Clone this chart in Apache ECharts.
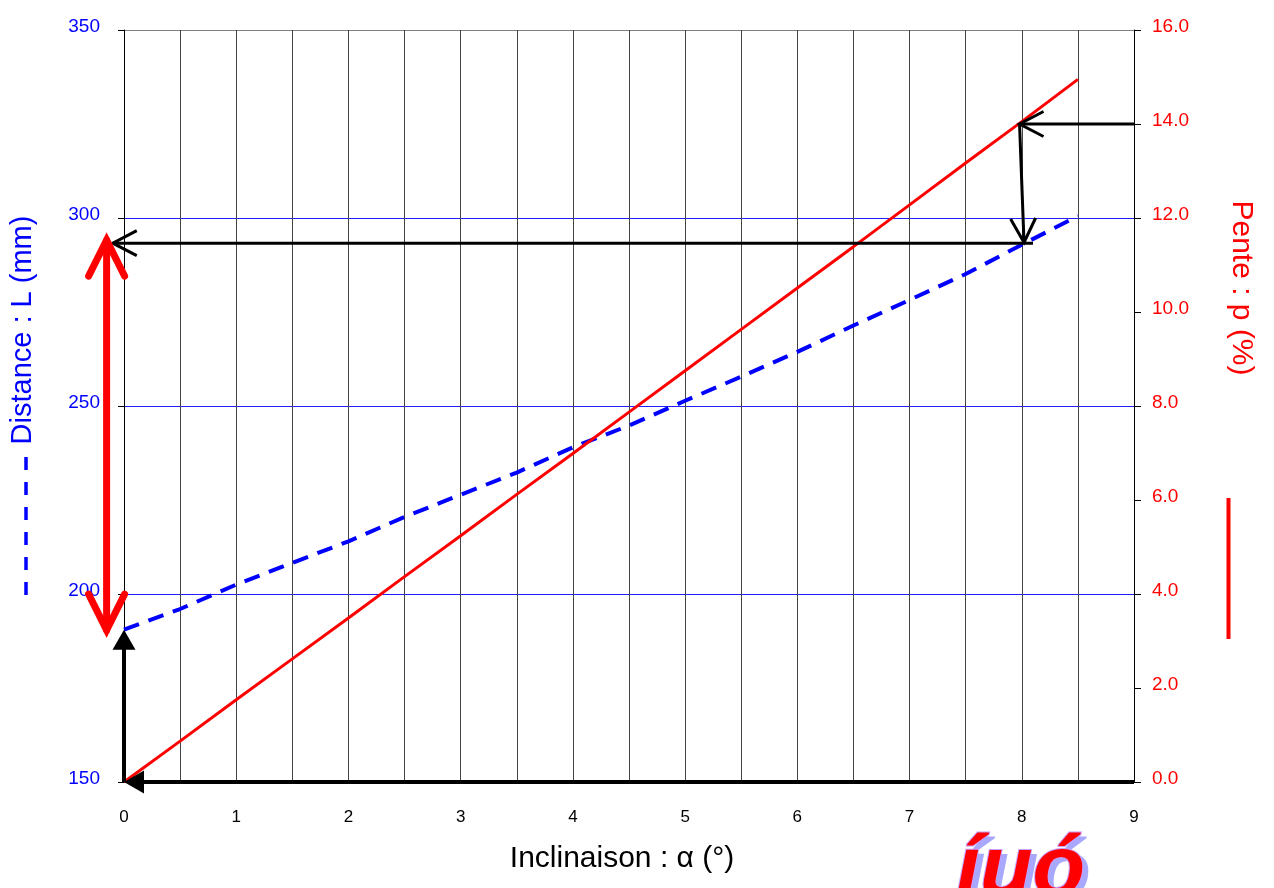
<!DOCTYPE html>
<html>
<head>
<meta charset="utf-8">
<title>Distance et pente</title>
<script src="https://cdn.jsdelivr.net/npm/echarts@6/dist/echarts.min.js"></script>
<style>
  html, body { margin: 0; padding: 0; background: #fff; }
  #chart { width: 1274px; height: 888px; }
</style>
</head>
<body>
<div id="chart"></div>
<script>
// inclinaison (deg), every 0.5
var angles = [0, 0.5, 1, 1.5, 2, 2.5, 3, 3.5, 4, 4.5, 5, 5.5, 6, 6.5, 7, 7.5, 8, 8.5];
// distance L (mm)
var distance = [190.5, 196, 202.5, 208.3, 214, 220.5, 226.4, 232.3, 239, 244.8, 251.4, 257.8, 264.4, 271.4, 278.2, 285.1, 292.9, 300.5];
// pente p (%)
var pente = [0, 0.87, 1.75, 2.62, 3.49, 4.37, 5.24, 6.12, 6.99, 7.87, 8.75, 9.63, 10.51, 11.39, 12.28, 13.17, 14.05, 14.95];

var leftTicks = [150, 350, 50];
var rightTicks = [0, 16, 2];

// reading arrows, in (angle, L) units; p values go through pToL
// [fromX, fromL, toX, toL, kind]  kind 0 = filled head, 1 = open head, 2 = red double
function pToL(p) {
  return leftTicks[0] + p * (leftTicks[1] - leftTicks[0]) / (rightTicks[1] - rightTicks[0]);
}
var arrows = [
  [0, 150, 0, 190.5, 0],
  [9, 150, 0, 150, 0],
  [9, pToL(14), 7.98, pToL(14), 1],
  [7.98, pToL(14), 8.02, 293.5, 1],
  [8.1, 293.3, -0.1, 293.3, 1],
  [-0.155, 190.4, -0.155, 294.1, 2]
];

var headStyle = {
  0: { len: 20, half: 11.5, width: 4, color: '#000' },
  1: { len: 24, half: 12.5, width: 3, color: '#000' },
  2: { len: 36, half: 18, width: 7, color: '#ff0000' }
};

function head(tip, d, h, filled) {
  var n = [-d[1], d[0]];
  var a = [tip[0] - d[0] * h.len + n[0] * h.half, tip[1] - d[1] * h.len + n[1] * h.half];
  var b = [tip[0] - d[0] * h.len - n[0] * h.half, tip[1] - d[1] * h.len - n[1] * h.half];
  if (filled) {
    return { type: 'polygon', shape: { points: [tip, a, b] }, style: { fill: h.color } };
  }
  return {
    type: 'polyline',
    shape: { points: [a, tip, b] },
    style: { stroke: h.color, lineWidth: h.width, fill: null, lineCap: h.width > 5 ? 'round' : 'butt', lineJoin: 'miter' }
  };
}

function renderArrow(params, api) {
  var p1 = api.coord([api.value(0), api.value(1)]);
  var p2 = api.coord([api.value(2), api.value(3)]);
  var kind = api.value(4);
  var h = headStyle[kind];
  var dx = p2[0] - p1[0], dy = p2[1] - p1[1];
  var len = Math.sqrt(dx * dx + dy * dy);
  var d = [dx / len, dy / len];
  var start = p1, end = p2;
  if (kind === 0) {
    end = [p2[0] - d[0] * h.len * 0.6, p2[1] - d[1] * h.len * 0.6];
  }
  var children = [{
    type: 'line',
    shape: { x1: start[0], y1: start[1], x2: end[0], y2: end[1] },
    style: { stroke: h.color, lineWidth: h.width, lineCap: kind === 2 ? 'round' : 'butt' }
  }];
  children.push(head(p2, d, h, kind === 0));
  if (kind === 2) {
    children.push(head(p1, [-d[0], -d[1]], h, false));
  }
  return { type: 'group', children: children };
}

var font = 'Liberation Sans, Arial, Helvetica, sans-serif';
var chart = echarts.init(document.getElementById('chart'));

var option = {
  animation: false,
  textStyle: { fontFamily: font },
  grid: { left: 124, right: 140, top: 30, bottom: 106, containLabel: false },
  xAxis: {
    type: 'value',
    min: 0,
    max: 9,
    interval: 1,
    name: 'Inclinaison : α (°)',
    nameLocation: 'middle',
    nameGap: 62,
    nameTextStyle: { color: '#000', fontSize: 30, fontFamily: font, padding: [0, 14, 0, 0] },
    axisLine: { show: false },
    axisTick: { show: false },
    axisLabel: { color: '#000', fontSize: 17, margin: 27 },
    splitLine: { show: true, lineStyle: { color: '#444', width: 1 } },
    minorTick: { show: false, splitNumber: 2 },
    minorSplitLine: { show: true, lineStyle: { color: '#444', width: 1 } }
  },
  yAxis: [{
    type: 'value',
    position: 'left',
    min: leftTicks[0],
    max: leftTicks[1],
    interval: leftTicks[2],
    axisLine: { show: true, lineStyle: { color: '#000', width: 1 } },
    axisTick: { show: true, length: 6, lineStyle: { color: '#000' } },
    axisLabel: { color: '#0000ff', fontSize: 19, margin: 24, verticalAlign: 'bottom', lineHeight: 6 },
    splitLine: { show: true, lineStyle: { color: ['#000', '#2020ff', '#2020ff', '#2020ff', '#808080'], width: 1 } }
  }, {
    type: 'value',
    position: 'right',
    min: rightTicks[0],
    max: rightTicks[1],
    interval: rightTicks[2],
    axisLine: { show: true, lineStyle: { color: '#000', width: 1 } },
    axisTick: { show: true, length: 7, lineStyle: { color: '#000' } },
    axisLabel: {
      color: '#ff0000', fontSize: 19, margin: 18, verticalAlign: 'bottom', lineHeight: 6,
      formatter: function (v) { return v.toFixed(1); }
    },
    splitLine: { show: false }
  }],
  series: [{
    name: 'Distance : L (mm)',
    type: 'line',
    yAxisIndex: 0,
    data: angles.map(function (a, i) { return [a, distance[i]]; }),
    showSymbol: false,
    symbol: 'none',
    lineStyle: { color: '#0000ff', width: 4, type: [16, 10] },
    z: 3
  }, {
    name: 'Pente : p (%)',
    type: 'line',
    yAxisIndex: 1,
    data: angles.map(function (a, i) { return [a, pente[i]]; }),
    showSymbol: false,
    symbol: 'none',
    lineStyle: { color: '#ff0000', width: 3 },
    z: 4
  }, {
    type: 'custom',
    yAxisIndex: 0,
    clip: false,
    renderItem: renderArrow,
    encode: { x: [0, 2], y: [1, 3] },
    data: arrows,
    z: 5
  }],
  graphic: [{
    type: 'text',
    x: 23, y: 330,
    rotation: Math.PI / 2,
    style: { text: 'Distance : L (mm)', fill: '#0000ff', font: '29px ' + font, align: 'center', verticalAlign: 'middle' }
  }, {
    type: 'line',
    shape: { x1: 26, y1: 457, x2: 26, y2: 596 },
    style: { stroke: '#0000ff', lineWidth: 3.5, lineDash: [13, 12] }
  }, {
    type: 'text',
    x: 1241, y: 288,
    rotation: -Math.PI / 2,
    style: { text: 'Pente : p (%)', fill: '#ff0000', font: '30px ' + font, align: 'center', verticalAlign: 'middle' }
  }, {
    type: 'line',
    shape: { x1: 1228.5, y1: 498, x2: 1228.5, y2: 639 },
    style: { stroke: '#ff0000', lineWidth: 4 }
  }, {
    // watermark, shadow layer
    type: 'text',
    x: 962, y: 918,
    style: {
      text: 'íuó', fill: '#a8a8ff',
      font: 'italic 900 86px ' + font, verticalAlign: 'bottom'
    }
  }, {
    type: 'text',
    x: 956, y: 914,
    style: {
      text: 'íuó', fill: '#ff0000', stroke: '#c8a0ff', lineWidth: 2,
      font: 'italic 900 86px ' + font, verticalAlign: 'bottom'
    }
  }]
};

chart.setOption(option);
</script>
</body>
</html>
